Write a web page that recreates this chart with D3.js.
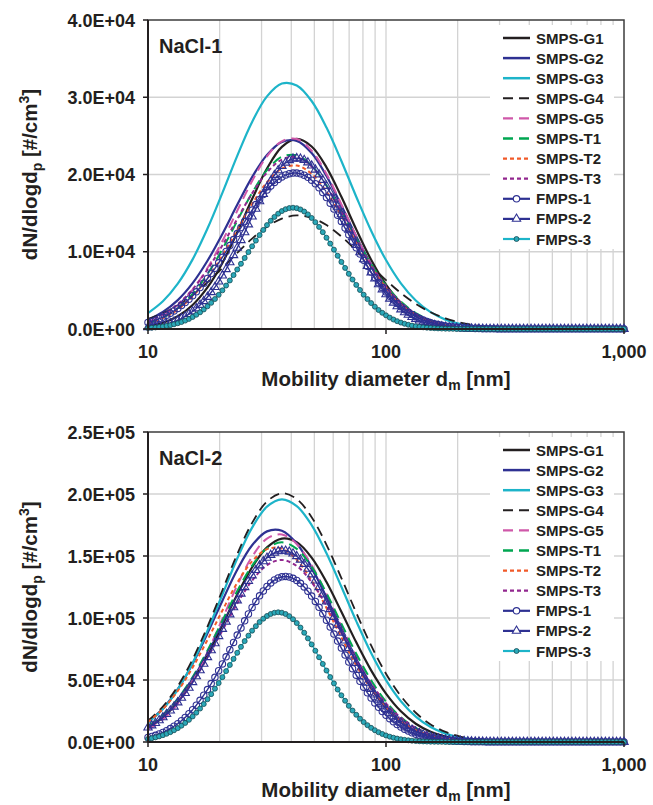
<!DOCTYPE html>
<html>
<head>
<meta charset="utf-8">
<script src="https://cdn.jsdelivr.net/npm/d3@7"></script>
<style>
  html, body { margin: 0; padding: 0; background: #fff; }
  svg { display: block; font-family: "Liberation Sans", Arial, Helvetica, sans-serif; font-weight: bold; }
  text { white-space: pre; }
</style>
</head>
<body>
<svg id="chart" width="653" height="805"></svg>
<script>
// ---- Size grids (mobility diameter, nm) ----
// SMPS curves: 16 points per decade
const diamSmps = [10, 11.55, 13.34, 15.40, 17.78, 20.54, 23.71, 27.38, 31.62, 36.52, 42.17, 48.70, 56.23, 64.94, 74.99, 86.60,
  100, 115.5, 133.4, 154.0, 177.8, 205.4, 237.1, 273.8, 316.2, 365.2, 421.7, 487.0, 562.3, 649.4, 749.9, 866.0, 1000];
// FMPS curves: 64 points per decade
const diamFmps = [10.00, 10.37, 10.75, 11.14, 11.55, 11.97, 12.41, 12.86, 13.34, 13.82, 14.33, 14.86, 15.40, 15.96, 16.55, 17.15,
  17.78, 18.43, 19.11, 19.81, 20.54, 21.29, 22.07, 22.88, 23.71, 24.58, 25.48, 26.42, 27.38, 28.39, 29.43, 30.51,
  31.62, 32.78, 33.98, 35.23, 36.52, 37.86, 39.24, 40.68, 42.17, 43.71, 45.32, 46.98, 48.70, 50.48, 52.33, 54.25,
  56.23, 58.29, 60.43, 62.64, 64.94, 67.32, 69.78, 72.34, 74.99, 77.74, 80.58, 83.54, 86.60, 89.77, 93.06, 96.47,
  100.0, 103.7, 107.5, 111.4, 115.5, 119.7, 124.1, 128.6, 133.4, 138.2, 143.3, 148.6, 154.0, 159.6, 165.5, 171.5,
  177.8, 184.3, 191.1, 198.1, 205.4, 212.9, 220.7, 228.8, 237.1, 245.8, 254.8, 264.2, 273.8, 283.9, 294.3, 305.1,
  316.2, 327.8, 339.8, 352.3, 365.2, 378.6, 392.4, 406.8, 421.7, 437.1, 453.2, 469.8, 487.0, 504.8, 523.3, 542.5,
  562.3, 582.9, 604.3, 626.4, 649.4, 673.2, 697.8, 723.4, 749.9, 777.4, 805.8, 835.4, 866.0, 897.7, 930.6, 964.7, 1000];

const seriesNames = ["SMPS-G1", "SMPS-G2", "SMPS-G3", "SMPS-G4", "SMPS-G5", "SMPS-T1", "SMPS-T2", "SMPS-T3",
  "FMPS-1", "FMPS-2", "FMPS-3"];

// ---- NaCl-1: dN/dlogDp [#/cm3] ----
const nacl1G1 = [359, 804, 1648, 3105, 5378, 8556, 12514, 16819, 20770, 23577, 24600, 23621, 20930, 17107, 12900, 8972, 5756, 3407, 1862, 937, 435, 189, 74, 27, 0, 0, 0, 0, 0, 0, 0, 0, 0];
const nacl1G2 = [1220, 2210, 3741, 5936, 8832, 12309, 16070, 19659, 22538, 24213, 24355, 22785, 19806, 15986, 11988, 8352, 5402, 3246, 1813, 938, 453, 203, 83, 32, 0, 0, 0, 0, 0, 0, 0, 0, 0];
const nacl1G3 = [2067, 3595, 5873, 9015, 13000, 17612, 22416, 26802, 30110, 31772, 31524, 29511, 26072, 21753, 17127, 12725, 8922, 5911, 3694, 2179, 1212, 635, 319, 147, 67, 29, 0, 0, 0, 0, 0, 0, 0];
const nacl1G4 = [1278, 2026, 3061, 4404, 6045, 7904, 9851, 11700, 13246, 14291, 14700, 14403, 13449, 11975, 10156, 8214, 6330, 4650, 3255, 2171, 1382, 835, 482, 266, 141, 69, 34, 15, 0, 0, 0, 0, 0];
const nacl1G5 = [899, 1722, 3068, 5100, 7894, 11384, 15299, 19157, 22354, 24300, 24601, 23092, 20066, 16141, 12024, 8292, 5291, 3127, 1712, 867, 405, 178, 72, 27, 0, 0, 0, 0, 0, 0, 0, 0, 0];
const nacl1T1 = [753, 1474, 2683, 4527, 7103, 10346, 14003, 17608, 20555, 22302, 22478, 21142, 18589, 15271, 11723, 8409, 5636, 3532, 2068, 1130, 576, 276, 124, 52, 20, 0, 0, 0, 0, 0, 0, 0, 0];
const nacl1T2 = [729, 1406, 2523, 4212, 6559, 9515, 12858, 16190, 18995, 20772, 21158, 20089, 17753, 14624, 11225, 8028, 5349, 3324, 1923, 1035, 521, 244, 106, 42, 0, 0, 0, 0, 0, 0, 0, 0, 0];
const nacl1T3 = [1037, 1891, 3222, 5151, 7716, 10829, 14243, 17555, 20266, 21934, 22235, 21031, 18538, 15211, 11638, 8293, 5513, 3412, 1965, 1057, 528, 248, 107, 45, 0, 0, 0, 0, 0, 0, 0, 0, 0];
const nacl1F1 = [840, 984, 1147, 1337, 1547, 1782, 2050, 2345, 2668, 3028,
  3422, 3852, 4317, 4818, 5357, 5931, 6539, 7183, 7858, 8561,
  9284, 10033, 10799, 11573, 12352, 13132, 13904, 14663, 15396, 16105,
  16778, 17406, 17984, 18507, 18972, 19364, 19685, 19935, 20101, 20188,
  20190, 20097, 19911, 19628, 19259, 18800, 18271, 17669, 17008, 16287,
  15522, 14726, 13902, 13063, 12211, 11363, 10520, 9698, 8894, 8114,
  7373, 6666, 5995, 5367, 4779, 4242, 3739, 3287, 2872, 2497,
  2163, 1864, 1596, 1361, 1155, 976, 820, 685, 576, 477,
  390, 321, 263, 214, 174, 141, 111, 89, 71, 57,
  44, 34, 28, 20,
  0, 0, 0, 0, 0, 0, 0, 0, 0, 0, 0, 0, 0, 0, 0, 0, 0, 0, 0, 0,
  0, 0, 0, 0, 0, 0, 0, 0, 0, 0, 0, 0, 0, 0, 0];
const nacl1F2 = [214, 267, 334, 415, 513, 632, 769, 935, 1129, 1357,
  1620, 1923, 2270, 2661, 3105, 3598, 4150, 4756, 5421, 6137,
  6917, 7744, 8626, 9547, 10509, 11496, 12506, 13527, 14546, 15550,
  16526, 17466, 18350, 19165, 19903, 20546, 21097, 21523, 21846, 22036,
  22100, 22038, 21857, 21556, 21143, 20624, 20003, 19293, 18511, 17658,
  16756, 15806, 14834, 13843, 12845, 11857, 10882, 9932, 9015, 8142,
  7306, 6522, 5784, 5112, 4489, 3921, 3403, 2939, 2528, 2157,
  1832, 1547, 1299, 1085, 902, 745, 614, 499, 407, 327,
  265, 214, 170, 133, 104, 80, 64, 49, 38, 31,
  22,
  0, 0, 0, 0, 0, 0, 0, 0, 0, 0, 0, 0, 0, 0, 0, 0, 0, 0, 0, 0,
  0, 0, 0, 0, 0, 0, 0, 0, 0, 0, 0, 0, 0, 0, 0, 0, 0, 0];
const nacl1F3 = [126, 162, 204, 257, 322, 400, 496, 609, 746, 904,
  1088, 1308, 1556, 1842, 2163, 2529, 2936, 3385, 3881, 4420,
  5002, 5625, 6283, 6979, 7701, 8442, 9195, 9954, 10707, 11444,
  12153, 12827, 13450, 14012, 14512, 14928, 15265, 15507, 15653, 15700,
  15642, 15477, 15207, 14838, 14375, 13832, 13218, 12538, 11814, 11054,
  10273, 9478, 8685, 7905, 7139, 6402, 5710, 5052, 4438, 3873,
  3355, 2887, 2462, 2094, 1766, 1477, 1228, 1013, 831, 675,
  545, 440, 349, 276, 217, 170, 132, 102, 79, 60,
  46, 33, 24,
  0, 0, 0, 0, 0, 0, 0, 0, 0, 0, 0, 0, 0, 0, 0, 0, 0, 0, 0, 0,
  0, 0, 0, 0, 0, 0, 0, 0, 0, 0, 0, 0, 0, 0, 0, 0, 0, 0, 0, 0,
  0, 0, 0, 0, 0, 0];

// ---- NaCl-2: dN/dlogDp [#/cm3] ----
const nacl2G1 = [11567, 19930, 32285, 49126, 70222, 94275, 118920, 140920, 156907, 164054, 161178, 148741, 128960, 105021, 80359, 57751, 39005, 24744, 14738, 8248, 4338, 2152, 1002, 444, 181, 66, 0, 0, 0, 0, 0, 0, 0];
const nacl2G2 = [15967, 26943, 42584, 63095, 87602, 113979, 138932, 158689, 169854, 170351, 160061, 140956, 116243, 89900, 65119, 44161, 28109, 16756, 9347, 4905, 2384, 1115, 480, 189, 69, 0, 0, 0, 0, 0, 0, 0, 0];
const nacl2G3 = [15636, 26576, 42486, 63740, 89807, 118927, 147930, 172863, 189770, 195700, 190240, 174956, 152157, 125170, 97459, 71744, 49923, 32917, 20529, 12055, 6732, 3542, 1781, 842, 372, 157, 59, 0, 0, 0, 0, 0, 0];
const nacl2G4 = [17111, 28626, 44995, 66700, 93078, 122386, 151533, 176709, 193980, 200600, 195866, 181282, 159016, 132236, 104232, 77853, 55105, 36991, 23571, 14182, 8104, 4393, 2247, 1103, 502, 221, 100, 0, 0, 0, 0, 0, 0];
const nacl2G5 = [9727, 18095, 30957, 49119, 72446, 99278, 126362, 149421, 164078, 167415, 159617, 142562, 119369, 93660, 68807, 47426, 30572, 18497, 10481, 5568, 2750, 1291, 570, 235, 84, 0, 0, 0, 0, 0, 0, 0, 0];
const nacl2T1 = [12864, 21864, 34953, 52438, 73883, 97840, 121700, 142211, 156122, 161000, 155768, 141229, 119993, 95457, 71210, 49797, 32586, 19980, 11479, 6182, 3123, 1497, 660, 274, 97, 0, 0, 0, 0, 0, 0, 0, 0];
const nacl2T2 = [16045, 26549, 41165, 60084, 82362, 106038, 128395, 145696, 155556, 155980, 146905, 130059, 108095, 84419, 61952, 42688, 27648, 16815, 9608, 5150, 2591, 1240, 550, 236, 94, 0, 0, 0, 0, 0, 0, 0, 0];
const nacl2T3 = [11964, 20273, 32325, 48400, 68056, 89930, 111627, 130182, 142631, 146800, 141912, 128920, 109968, 88153, 66383, 46961, 31210, 19480, 11436, 6298, 3259, 1585, 719, 308, 132, 0, 0, 0, 0, 0, 0, 0, 0];
const nacl2F1 = [3698, 4472, 5393, 6461, 7703, 9145, 10800, 12683, 14792, 17195,
  19851, 22829, 26086, 29690, 33575, 37781, 42306, 47085, 52158, 57472,
  62985, 68672, 74480, 80340, 86214, 92022, 97722, 103209, 108455, 113342,
  117867, 121859, 125397, 128294, 130630, 132272, 133233, 133500, 133073, 132005,
  130283, 127960, 125063, 121619, 117694, 113342, 108576, 103476, 98216, 92702,
  87069, 81368, 75708, 70061, 64534, 59141, 53907, 48914, 44175, 39650,
  35471, 31546, 27942, 24591, 21534, 18810, 16314, 14111, 12108, 10360,
  8811, 7449, 6261, 5260, 4392, 3658, 3004, 2483, 2016, 1655,
  1348, 1081, 868, 681, 547, 427, 334, 267, 200, 160,
  120, 93,
  0, 0, 0, 0, 0, 0, 0, 0, 0, 0, 0, 0, 0, 0, 0, 0, 0, 0, 0, 0,
  0, 0, 0, 0, 0, 0, 0, 0, 0, 0, 0, 0, 0, 0, 0, 0, 0];
const nacl2F2 = [11588, 13332, 15276, 17451, 19828, 22466, 25336, 28484, 31895, 35566,
  39485, 43698, 48188, 52909, 57832, 63001, 68370, 73910, 79557, 85328,
  91145, 97008, 102826, 108535, 114167, 119613, 124844, 129751, 134334, 138577,
  142373, 145705, 148514, 150828, 152556, 153698, 154254, 154177, 153405, 151939,
  149794, 147002, 143592, 139626, 135090, 130167, 124844, 119135, 113225, 107084,
  100804, 94462, 88105, 81825, 75607, 69620, 63710, 58079, 52693, 47648,
  42756, 38282, 34100, 30227, 26663, 23454, 20491, 17853, 15461, 13332,
  11449, 9767, 8301, 7036, 5925, 4968, 4151, 3456, 2870, 2345,
  1929, 1589, 1281, 1049, 833, 663, 540, 417, 339, 262,
  216, 154, 123,
  0, 0, 0, 0, 0, 0, 0, 0, 0, 0, 0, 0, 0, 0, 0, 0, 0, 0, 0, 0,
  0, 0, 0, 0, 0, 0, 0, 0, 0, 0, 0, 0, 0, 0, 0, 0];
const nacl2F3 = [2458, 3033, 3724, 4529, 5502, 6621, 7939, 9445, 11182, 13159,
  15366, 17855, 20606, 23661, 26966, 30596, 34487, 38608, 42991, 47551,
  52300, 57164, 62101, 67028, 71954, 76735, 81368, 85762, 89789, 93429,
  96713, 99443, 101629, 103240, 104234, 104600, 104276, 103219, 101452, 99004,
  95929, 92289, 88136, 83575, 78712, 73597, 68335, 62969, 57635, 52363,
  47279, 42321, 37635, 33252, 29142, 25355, 21945, 18828, 16067, 13577,
  11401, 9508, 7887, 6485, 5293, 4289, 3462, 2761, 2186, 1726,
  1349, 1056, 816, 617, 471, 356, 262, 199, 146, 105,
  0, 0, 0, 0, 0, 0, 0, 0, 0, 0, 0, 0, 0, 0, 0, 0, 0, 0, 0, 0,
  0, 0, 0, 0, 0, 0, 0, 0, 0, 0, 0, 0, 0, 0, 0, 0, 0, 0, 0, 0,
  0, 0, 0, 0, 0, 0, 0, 0, 0];

// ---- Axis ticks ----
const xTickValues = [10, 100, 1000];
const xTickLabels = ["10", "100", "1,000"];
const yTicks1 = [0, 1e4, 2e4, 3e4, 4e4];
const yLabels1 = ["0.0E+00", "1.0E+04", "2.0E+04", "3.0E+04", "4.0E+04"];
const yTicks2 = [0, 5e4, 1e5, 1.5e5, 2e5, 2.5e5];
const yLabels2 = ["0.0E+00", "5.0E+04", "1.0E+05", "1.5E+05", "2.0E+05", "2.5E+05"];

// ---- Appearance of each series (same order as seriesNames) ----
const seriesStyle = [
  { color: "#231f20", width: 2.2 },
  { color: "#2e3192", width: 2.2 },
  { color: "#1db4c9", width: 2.2 },
  { color: "#231f20", width: 1.8, dash: "10,6" },
  { color: "#cf58a9", width: 2.0, dash: "10,6" },
  { color: "#00a651", width: 2.0, dash: "10,6" },
  { color: "#f15a29", width: 2.0, dash: "4,3" },
  { color: "#92278f", width: 2.0, dash: "4,3" },
  { color: "#2e3192", width: 1.4, marker: "circle" },
  { color: "#2e3192", width: 1.4, marker: "triangle" },
  { color: "#1db4c9", width: 1.4, marker: "dot" }
];

const panels = [
  { title: "NaCl-1", top: 20, bottom: 329, titleGap: 57, yMax: 4e4, yTicks: yTicks1, yLabels: yLabels1,
    smps: [nacl1G1, nacl1G2, nacl1G3, nacl1G4, nacl1G5, nacl1T1, nacl1T2, nacl1T3],
    fmps: [nacl1F1, nacl1F2, nacl1F3] },
  { title: "NaCl-2", top: 432, bottom: 742, titleGap: 55, yMax: 2.5e5, yTicks: yTicks2, yLabels: yLabels2,
    smps: [nacl2G1, nacl2G2, nacl2G3, nacl2G4, nacl2G5, nacl2T1, nacl2T2, nacl2T3],
    fmps: [nacl2F1, nacl2F2, nacl2F3] }
];

const TEXT = "#231f20";
const plotLeft = 148, plotRight = 624;
const svg = d3.select("#chart");
svg.append("rect").attr("width", 653).attr("height", 805).attr("fill", "#fff");

const x = d3.scaleLog().domain([10, 1000]).range([plotLeft, plotRight]);
const triangle = d3.symbol().type(d3.symbolTriangle).size(30);

function drawMarkers(g, pts, style) {
  if (style.marker === "circle") {
    g.selectAll(null).data(pts).join("circle")
      .attr("cx", d => d[0]).attr("cy", d => d[1]).attr("r", 3.2)
      .attr("fill", "none").attr("stroke", style.color).attr("stroke-width", 1.1);
  } else if (style.marker === "triangle") {
    g.selectAll(null).data(pts).join("path")
      .attr("d", triangle).attr("transform", d => `translate(${d[0]},${d[1]})`)
      .attr("fill", "none").attr("stroke", style.color).attr("stroke-width", 1.1);
  } else if (style.marker === "dot") {
    g.selectAll(null).data(pts).join("circle")
      .attr("cx", d => d[0]).attr("cy", d => d[1]).attr("r", 2.5)
      .attr("fill", "#2aa8b8").attr("stroke", "#164b54").attr("stroke-width", 0.8);
  }
}

function drawPanel(p) {
  const y = d3.scaleLinear().domain([0, p.yMax]).range([p.bottom, p.top]);
  const g = svg.append("g");

  // grid
  const gridX = x.ticks().filter(v => v > 10 && v < 1000);
  g.append("g").selectAll("line").data(gridX).join("line")
    .attr("x1", d => x(d)).attr("x2", d => x(d)).attr("y1", p.top).attr("y2", p.bottom)
    .attr("stroke", "#d3d3d3").attr("stroke-width", 1.3);
  g.append("g").selectAll("line").data(p.yTicks.filter(v => v > 0 && v < p.yMax)).join("line")
    .attr("x1", plotLeft).attr("x2", plotRight).attr("y1", d => y(d)).attr("y2", d => y(d))
    .attr("stroke", "#d3d3d3").attr("stroke-width", 1.3);

  // frame
  g.append("rect").attr("x", plotLeft).attr("y", p.top)
    .attr("width", plotRight - plotLeft).attr("height", p.bottom - p.top)
    .attr("fill", "none").attr("stroke", "#3d3d3d").attr("stroke-width", 1.5);

  // series
  const smoothLine = d3.line().x(d => x(d[0])).y(d => y(d[1])).curve(d3.curveCatmullRom.alpha(0.5));
  const straightLine = d3.line().x(d => x(d[0])).y(d => y(d[1]));
  const series = p.smps.concat(p.fmps);
  series.forEach((vals, si) => {
    const st = seriesStyle[si];
    const grid = st.marker ? diamFmps : diamSmps;
    const pts = vals.slice(0, grid.length).map((v, i) => [grid[i], v]);
    const sg = g.append("g");
    sg.append("path").datum(pts)
      .attr("d", st.marker ? straightLine : smoothLine)
      .attr("fill", "none").attr("stroke", st.color).attr("stroke-width", st.width)
      .attr("stroke-dasharray", st.dash || null).attr("stroke-linejoin", "round");
    if (st.marker) drawMarkers(sg, pts.map(d => [x(d[0]), y(d[1])]), st);
  });

  // axis lines and ticks
  g.append("line").attr("x1", plotLeft).attr("x2", plotLeft).attr("y1", p.top).attr("y2", p.bottom)
    .attr("stroke", "#231f20").attr("stroke-width", 2);
  g.append("line").attr("x1", plotLeft).attr("x2", plotRight).attr("y1", p.bottom).attr("y2", p.bottom)
    .attr("stroke", "#231f20").attr("stroke-width", 2);
  g.append("g").selectAll("line").data(p.yTicks).join("line")
    .attr("x1", plotLeft - 5).attr("x2", plotLeft).attr("y1", d => y(d)).attr("y2", d => y(d))
    .attr("stroke", "#231f20").attr("stroke-width", 1.5);
  g.append("g").selectAll("line").data(xTickValues).join("line")
    .attr("x1", d => x(d)).attr("x2", d => x(d)).attr("y1", p.bottom).attr("y2", p.bottom + 5)
    .attr("stroke", "#231f20").attr("stroke-width", 1.5);

  // tick labels
  g.append("g").selectAll("text").data(p.yTicks).join("text")
    .attr("x", plotLeft - 13).attr("y", d => y(d) + 6.5).attr("text-anchor", "end")
    .attr("font-size", 18).attr("fill", TEXT).text((d, i) => p.yLabels[i]);
  g.append("g").selectAll("text").data(xTickValues).join("text")
    .attr("x", d => x(d)).attr("y", p.bottom + 29).attr("text-anchor", "middle")
    .attr("font-size", 18).attr("fill", TEXT).text((d, i) => xTickLabels[i]);

  // axis titles
  const xt = g.append("text").attr("x", (plotLeft + plotRight) / 2).attr("y", p.bottom + p.titleGap)
    .attr("text-anchor", "middle").attr("font-size", 20.5).attr("fill", TEXT);
  xt.append("tspan").text("Mobility diameter d");
  xt.append("tspan").attr("font-size", 14).attr("dy", 4).text("m");
  xt.append("tspan").attr("dy", -4).text(" [nm]");

  const yt = g.append("text")
    .attr("transform", `translate(36.5,${(p.top + p.bottom) / 2}) rotate(-90)`)
    .attr("text-anchor", "middle").attr("font-size", 20.5).attr("fill", TEXT);
  yt.append("tspan").text("dN/dlogd");
  yt.append("tspan").attr("font-size", 14).attr("dy", 5).text("p");
  yt.append("tspan").attr("dy", -5).text(" [#/cm");
  yt.append("tspan").attr("font-size", 14).attr("dy", -8).text("3");
  yt.append("tspan").attr("dy", 8).text("]");

  // panel title
  g.append("text").attr("x", 159).attr("y", p.top + 33).attr("font-size", 20)
    .attr("fill", TEXT).text(p.title);

  // legend
  const lg = g.append("g");
  lg.append("rect").attr("x", 490).attr("y", p.top + 5).attr("width", 124).attr("height", 224)
    .attr("fill", "#fff");
  seriesNames.forEach((name, i) => {
    const st = seriesStyle[i];
    const ly = p.top + 18 + i * 20.1;
    lg.append("line").attr("x1", 503).attr("x2", 530).attr("y1", ly).attr("y2", ly)
      .attr("stroke", st.color).attr("stroke-width", st.marker ? 2.2 : st.width + 0.3)
      .attr("stroke-dasharray", st.dash || null);
    if (st.marker === "circle") {
      lg.append("circle").attr("cx", 516.5).attr("cy", ly).attr("r", 3.2)
        .attr("fill", "#fff").attr("stroke", st.color).attr("stroke-width", 1.1);
    } else if (st.marker === "triangle") {
      lg.append("path").attr("d", triangle).attr("transform", `translate(516.5,${ly})`)
        .attr("fill", "#fff").attr("stroke", st.color).attr("stroke-width", 1.1);
    } else if (st.marker === "dot") {
      lg.append("circle").attr("cx", 516.5).attr("cy", ly).attr("r", 2.5)
        .attr("fill", "#2aa8b8").attr("stroke", "#164b54").attr("stroke-width", 0.8);
    }
    lg.append("text").attr("x", 536).attr("y", ly + 5.5).attr("font-size", 15)
      .attr("fill", TEXT).text(name);
  });
}

panels.forEach(drawPanel);
</script>
</body>
</html>
